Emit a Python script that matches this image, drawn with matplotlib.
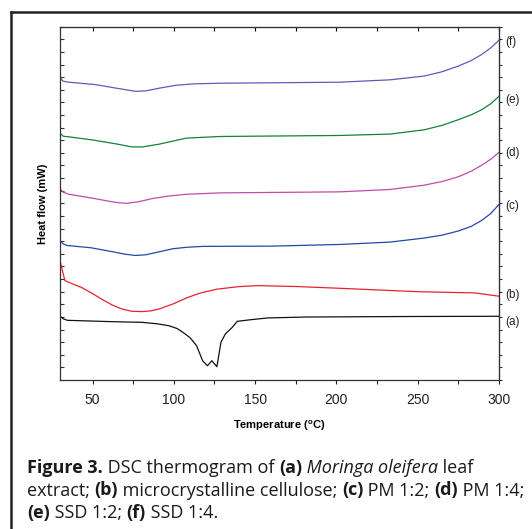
import numpy as np
import matplotlib
matplotlib.use("Agg")
import matplotlib.pyplot as plt
from matplotlib.lines import Line2D
from matplotlib.ticker import MultipleLocator

# DSC curves (temperature in C, heat flow in arbitrary offset units)
t_a = [30, 32, 34.5, 60, 80.5, 90, 97, 102, 105.6, 110, 114, 117.7, 120.7, 123.4, 126.5, 129, 131.7, 136, 139, 147.4, 158, 181, 240, 300]
hf_a = [5.05, 4.85, 4.73, 4.63, 4.57, 4.45, 4.3, 4.08, 3.78, 3.35, 2.72, 1.53, 1.13, 1.53, 1.05, 2.99, 3.65, 4.18, 4.65, 4.78, 4.92, 4.99, 5.03, 5.05]

t_b = [30, 33, 38, 43, 50, 55.4, 62, 68, 74, 80.5, 86, 91, 100, 107.7, 116, 126.5, 140, 151.6, 175, 201.8, 249.8, 285.4, 300]
hf_b = [9.46, 7.88, 7.6, 7.35, 6.85, 6.42, 5.95, 5.63, 5.45, 5.42, 5.48, 5.63, 6.05, 6.5, 6.88, 7.2, 7.4, 7.48, 7.41, 7.27, 7.0, 6.9, 6.64]

t_c = [30, 32, 34.5, 49, 63.8, 70, 76.3, 82.6, 90, 99.3, 108, 118, 160, 201.8, 233, 254, 265, 275, 283, 289.5, 295, 300]
hf_c = [11.06, 10.78, 10.66, 10.48, 10.13, 9.97, 9.87, 9.92, 10.13, 10.4, 10.52, 10.59, 10.61, 10.74, 10.93, 11.25, 11.48, 11.81, 12.18, 12.66, 13.2, 13.91]

t_d = [30, 32, 35.6, 51.3, 60, 66, 71, 78, 86.8, 97, 107.7, 128.6, 201.8, 233, 254, 265, 275, 283, 289.5, 295, 300]
hf_d = [15.17, 14.88, 14.72, 14.38, 14.17, 14.05, 14.0, 14.12, 14.38, 14.58, 14.72, 14.83, 14.91, 15.1, 15.44, 15.73, 16.11, 16.55, 17.04, 17.5, 18.04]

t_e = [30, 32, 35.6, 51.3, 65, 74.3, 80.5, 91, 100, 107.7, 128.6, 201.8, 233, 254, 265, 275, 283, 289.5, 295, 300]
hf_e = [19.56, 19.32, 19.27, 19.0, 18.7, 18.47, 18.47, 18.69, 18.95, 19.17, 19.3, 19.38, 19.49, 19.83, 20.18, 20.63, 21.02, 21.43, 21.9, 22.48]

t_f = [30, 32, 35.6, 51.3, 65, 76.3, 82.6, 92, 101.4, 112, 128.6, 201.8, 233, 254, 265, 275, 283, 289.5, 295, 300]
hf_f = [23.95, 23.68, 23.6, 23.42, 23.12, 22.88, 22.91, 23.15, 23.36, 23.47, 23.52, 23.6, 23.79, 24.09, 24.43, 24.88, 25.32, 25.81, 26.33, 26.93]

curve_labels = ["(a)", "(b)", "(c)", "(d)", "(e)", "(f)"]
label_y = [4.62, 6.74, 13.8, 18.0, 22.2, 26.8]
colors = ["#111111", "#e8222c", "#2448a8", "#c24ba6", "#13823c", "#6a55b6"]

fig = plt.figure(figsize=(5.32, 5.29), dpi=100)
ax = fig.add_axes([60 / 532, (529 - 380) / 529, 439 / 532, 353.3 / 529])

series = [(t_a, hf_a), (t_b, hf_b), (t_c, hf_c), (t_d, hf_d), (t_e, hf_e), (t_f, hf_f)]
for (t, hf), c in zip(series, colors):
    ax.plot(t, hf, color=c, lw=0.9)

for lab, ly in zip(curve_labels, label_y):
    ax.text(304, ly, lab, fontsize=8.5, family="Liberation Sans", color="#222222", va="center", ha="left")

ax.set_xlim(30, 300)
ax.set_ylim(0, 28)
ax.xaxis.set_major_locator(MultipleLocator(50))
ax.xaxis.set_minor_locator(MultipleLocator(25))
ax.yaxis.set_major_locator(MultipleLocator(1))
ax.set_yticklabels([])
ax.tick_params(axis="x", which="both", direction="out", length=3, width=0.8, labelsize=10,
               pad=6, colors="#222222")
ax.tick_params(axis="y", which="both", direction="in", length=3, width=0.8, colors="#333333")
# top ticks point in, right ticks point out
sec_top = ax.secondary_xaxis("top")
sec_top.xaxis.set_major_locator(MultipleLocator(50))
sec_top.xaxis.set_minor_locator(MultipleLocator(25))
sec_top.tick_params(which="both", direction="in", length=3, width=0.8, labeltop=False)
sec_right = ax.secondary_yaxis("right")
sec_right.yaxis.set_major_locator(MultipleLocator(1))
sec_right.tick_params(direction="out", length=2.5, width=0.8, labelright=False, colors="#333333")
for lab in ax.get_xticklabels():
    lab.set_family("Liberation Sans")
for s in ax.spines.values():
    s.set_linewidth(0.9)
    s.set_color("#333333")

ax.set_xlabel("Temperature ($^{\\mathregular{o}}$C)", fontsize=8, fontweight="bold", family="Liberation Sans", labelpad=9)
ax.set_ylabel("Heat flow (mW)", fontsize=8, fontweight="bold", family="Liberation Sans", labelpad=5)

# outer frame lines (left and top)
fig.add_artist(Line2D([11.2 / 532, 11.2 / 532], [0, 1 - 11.5 / 529], color="#222222", lw=1.8))
fig.add_artist(Line2D([11.2 / 532, 1], [1 - 11.5 / 529, 1 - 11.5 / 529], color="#222222", lw=1.8))

# caption with mixed styles
caption = [
    [("Figure 3.", "bold", "normal"), (" DSC thermogram of ", "normal", "normal"), ("(a)", "bold", "normal"),
     (" Moringa oleifera", "normal", "italic"), (" leaf", "normal", "normal")],
    [("extract; ", "normal", "normal"), ("(b)", "bold", "normal"), (" microcrystalline cellulose; ", "normal", "normal"),
     ("(c)", "bold", "normal"), (" PM 1:2; ", "normal", "normal"), ("(d)", "bold", "normal"), (" PM 1:4;", "normal", "normal")],
    [("(e)", "bold", "normal"), (" SSD 1:2; ", "normal", "normal"), ("(f)", "bold", "normal"), (" SSD 1:4.", "normal", "normal")],
]
renderer = fig.canvas.get_renderer()
line_y = [1 - 473 / 529, 1 - 495.5 / 529, 1 - 518 / 529]
for parts, y in zip(caption, line_y):
    x = 27 / 532
    for txt, w, st in parts:
        t = fig.text(x, y, txt, fontsize=13, family="Open Sans", fontweight=w, style=st,
                     color="#1a1a1a", va="baseline", ha="left")
        bb = t.get_window_extent(renderer)
        x += bb.width / fig.bbox.width

fig.savefig("out.png", dpi=100)
